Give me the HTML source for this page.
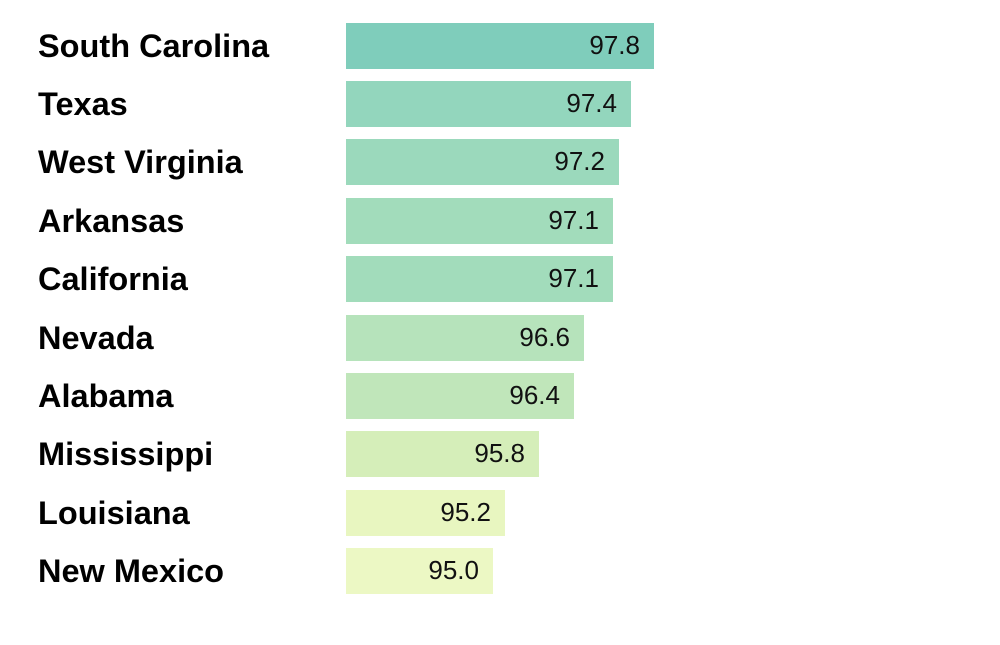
<!DOCTYPE html>
<html><head><meta charset="utf-8"><style>
body{margin:0;width:1000px;height:645px;background:#fff;overflow:hidden;font-family:"Liberation Sans",Arial,sans-serif}
.l{position:absolute;left:38px;font-weight:bold;font-size:32.5px;line-height:46px;color:#000}
.b{position:absolute;left:346px;height:46px}
.v{position:absolute;font-size:26px;line-height:46px;color:#111;text-align:right}
</style></head><body>
<div id="c"></div>
<script>
const d=[["South Carolina","97.8",654,"#7fcdbb"],["Texas","97.4",631,"#93d6bd"],["West Virginia","97.2",619,"#9bd9bc"],["Arkansas","97.1",613,"#a2dcbb"],["California","97.1",613,"#a2dcbb"],["Nevada","96.6",584,"#b6e3bb"],["Alabama","96.4",574,"#c0e6ba"],["Mississippi","95.8",539,"#d5eeb9"],["Louisiana","95.2",505,"#e8f6c0"],["New Mexico","95.0",493,"#ecf8c4"]];
let h="";
d.forEach((r,i)=>{const t=22.5+i*58.4;
h+=`<div class="l" style="top:${t}px">${r[0]}</div><div class="b" style="top:${t}px;width:${r[2]-346}px;background:${r[3]}"></div><div class="v" style="top:${t-1}px;left:346px;width:${r[2]-346-14}px">${r[1]}</div>`;});
document.getElementById("c").innerHTML=h;
</script>
</body></html>
